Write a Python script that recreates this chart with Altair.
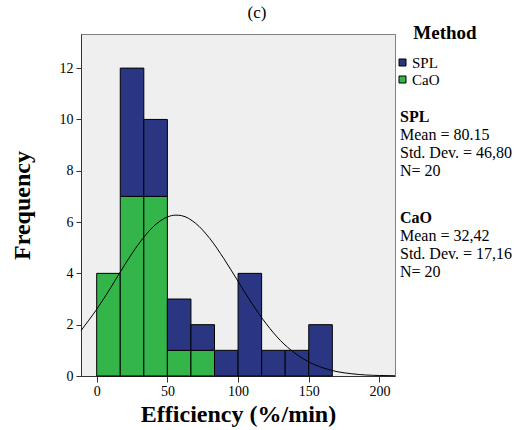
import altair as alt
import pandas as pd

# ---- data ----
bin_edges = [0, 16.67, 33.33, 50, 66.67, 83.33, 100, 116.67, 133.33, 150, 166.67]
cao_counts = [4, 7, 7, 1, 1, 0, 0, 0, 0, 0]
spl_counts = [0, 5, 3, 2, 1, 1, 4, 1, 1, 2]
methods = ["SPL", "CaO"]

curve_x = [-11, 0, 10, 20, 30, 40, 50, 56, 60, 70, 80, 90, 100, 110, 120, 130, 140, 150, 160, 170, 180, 190, 200, 211]
curve_y = [1.78, 2.60, 3.45, 4.35, 5.17, 5.82, 6.20, 6.27, 6.25, 5.95, 5.36, 4.57, 3.69, 2.81, 2.03, 1.38, 0.90, 0.55, 0.32, 0.17, 0.09, 0.04, 0.02, 0.01]

stat_names = ["SPL", "CaO"]
stat_means = ["80.15", "32,42"]
stat_sds = ["46,80", "17,16"]
stat_ns = ["20", "20"]
panel_label = "(c)"

FONT = "Liberation Serif"
NAVY = "#2a3682"
GREEN = "#33b54a"

rows = []
for i in range(len(bin_edges) - 1):
    c = cao_counts[i]
    s = spl_counts[i]
    if c > 0:
        rows.append({"start": bin_edges[i], "end": bin_edges[i + 1], "lo": 0, "hi": c, "Method": "CaO"})
    if s > 0:
        rows.append({"start": bin_edges[i], "end": bin_edges[i + 1], "lo": c, "hi": c + s, "Method": "SPL"})
bars_df = pd.DataFrame(rows)

curve_df = pd.DataFrame({"x": curve_x, "y": curve_y})

xscale = alt.Scale(domain=[-11.1, 211], nice=False, zero=False)
yscale = alt.Scale(domain=[0, 13.33], nice=False)

axis_style = dict(grid=False, labelFont=FONT, labelFontSize=14, labelColor="black",
                  domainColor="#333333", tickColor="#333333",
                  titleFont=FONT, titleFontSize=24, titleFontWeight="bold", titleColor="black")

bars = alt.Chart(bars_df).mark_rect(stroke="black", strokeWidth=1, opacity=1).encode(
    x=alt.X("start:Q", scale=xscale,
            axis=alt.Axis(values=[0, 50, 100, 150, 200], title="Efficiency (%/min)",
                          tickSize=6, labelPadding=2, titlePadding=4, **axis_style)),
    x2="end:Q",
    y=alt.Y("lo:Q", scale=yscale,
            axis=alt.Axis(values=[0, 2, 4, 6, 8, 10, 12], title="Frequency",
                          tickSize=5, labelPadding=3, titlePadding=25, **axis_style)),
    y2="hi:Q",
    color=alt.Color("Method:N", scale=alt.Scale(domain=methods, range=[NAVY, GREEN]),
                    legend=alt.Legend(title=None, orient="none", legendX=314, legendY=21,
                                      symbolType="square", symbolSize=49,
                                      symbolStrokeColor="black", symbolStrokeWidth=1,
                                      symbolOpacity=1, labelFont=FONT, labelFontSize=15,
                                      labelColor="black", labelOffset=2, rowPadding=1,
                                      padding=0)),
)

curve = alt.Chart(curve_df).mark_line(color="black", strokeWidth=1, interpolate="monotone").encode(
    x=alt.X("x:Q", scale=xscale),
    y=alt.Y("y:Q", scale=yscale),
)

layers = [bars, curve]

title_txt = alt.Chart(pd.DataFrame({"t": [panel_label]})).mark_text(
    font=FONT, fontSize=17, align="center", baseline="middle", color="black"
).encode(text="t:N", x=alt.value(176), y=alt.value(-21))
layers.append(title_txt)

method_title = alt.Chart(pd.DataFrame({"t": ["Method"]})).mark_text(
    font=FONT, fontSize=19, fontWeight="bold", align="center", baseline="middle", color="black"
).encode(text="t:N", x=alt.value(364), y=alt.value(-1))
layers.append(method_title)

for k, name in enumerate(stat_names):
    base_y = 83 + 101 * k
    head = alt.Chart(pd.DataFrame({"t": [name]})).mark_text(
        font=FONT, fontSize=16, fontWeight="bold", align="left", baseline="middle", color="black"
    ).encode(text="t:N", x=alt.value(319), y=alt.value(base_y))
    body_txt = "Mean = " + stat_means[k] + "\nStd. Dev. = " + stat_sds[k] + "\nN= " + stat_ns[k]
    body = alt.Chart(pd.DataFrame({"t": [body_txt]})).mark_text(
        font=FONT, fontSize=16, align="left", baseline="middle", color="black",
        lineBreak="\n", lineHeight=18
    ).encode(text="t:N", x=alt.value(319), y=alt.value(base_y + 18))
    layers += [head, body]

chart = alt.layer(*layers).properties(
    width=314, height=342,
    padding={"left": 81, "top": 34, "right": 120, "bottom": 54},
    autosize=alt.AutoSizeParams(type="none"),
    background="white",
).configure_view(
    fill="#efefef", stroke="#808080", strokeWidth=1
).configure_axis(
    labelFont=FONT, labelFontSize=14, labelColor="black",
    titleFont=FONT, titleFontSize=24, titleFontWeight="bold", titleColor="black",
)

chart.save("out.html", embed_options={"renderer": "svg", "actions": False})
